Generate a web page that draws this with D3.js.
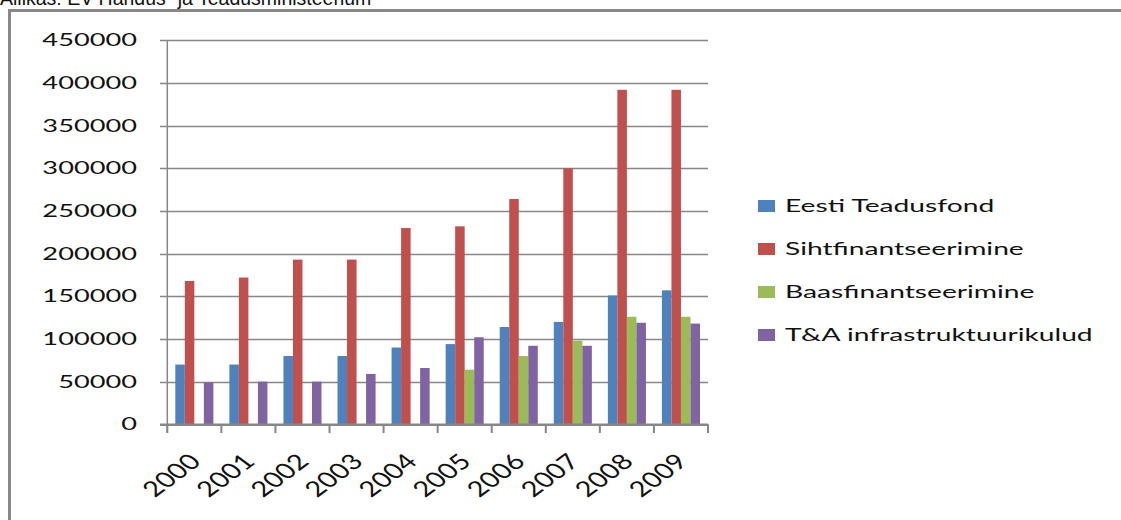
<!DOCTYPE html>
<html>
<head>
<meta charset="utf-8">
<script src="https://cdn.jsdelivr.net/npm/d3@7"></script>
<style>
  body { margin: 0; background: #fff; }
  svg { display: block; }
  text { font-family: Lato, "Open Sans", sans-serif; fill: #111; }
</style>
</head>
<body>
<svg id="chart" width="1121" height="520"></svg>
<script>
const years = ["2000","2001","2002","2003","2004","2005","2006","2007","2008","2009"];
const seriesNames = ["Eesti Teadusfond","Sihtfinantseerimine","Baasfinantseerimine","T&A infrastruktuurikulud"];
const eestiTeadusfond     = [70000, 70000, 80000, 80000, 90000, 94000, 114000, 120000, 151000, 157000];
const sihtfinantseerimine = [168000, 172000, 193000, 193000, 230000, 232000, 264000, 300000, 392000, 392000];
const baasfinantseerimine = [0, 0, 0, 0, 0, 64000, 80000, 98000, 126000, 126000];
const infrastruktuurikulud= [49000, 50000, 50000, 59000, 66000, 102000, 92000, 92000, 119000, 118000];
const yTicks = [0, 50000, 100000, 150000, 200000, 250000, 300000, 350000, 400000, 450000];
const colors = ["#4F81BD", "#C0504D", "#9BBB59", "#8064A2"];
const titleText = "Allikas: EV Haridus- ja Teadusministeerium";

const seriesValues = [eestiTeadusfond, sihtfinantseerimine, baasfinantseerimine, infrastruktuurikulud];
const svg = d3.select("#chart");
const SX = 1.6;

// frame
svg.append("path")
  .attr("d", "M9.5,520 L9.5,10.5 L1121,10.5")
  .attr("fill", "none").attr("stroke", "#888").attr("stroke-width", 3);

// title (cut off at top, as in the reference)
svg.append("text").attr("x", 0).attr("y", 5)
  .style("font-family", "'Liberation Sans', Arial, sans-serif")
  .style("font-size", "19.5px").text(titleText);

const x = d3.scaleBand().domain(years).range([167.3, 708]).paddingInner(0).paddingOuter(0);
const xs = d3.scaleBand().domain(seriesNames).range([8, x.bandwidth() - 8]).padding(0);
const y = d3.scaleLinear().domain([0, 450000]).range([424.3, 40.3]);

// gridlines
svg.append("g").selectAll("line").data(yTicks.filter(d => d > 0)).join("line")
  .attr("x1", 160).attr("x2", 708)
  .attr("y1", d => Math.round(y(d)) + 0.5).attr("y2", d => Math.round(y(d)) + 0.5)
  .attr("stroke", "#878787").attr("stroke-width", 1.4);

// bars
const g = svg.append("g");
seriesNames.forEach((s, i) => {
  g.append("g").selectAll("rect").data(years.map((yr, j) => ({yr, v: seriesValues[i][j]})).filter(d => d.v > 0))
    .join("rect")
    .attr("x", d => x(d.yr) + xs(s))
    .attr("width", xs.bandwidth())
    .attr("y", d => y(d.v))
    .attr("height", d => y(0) - y(d.v))
    .attr("fill", colors[i]);
});

// y axis line
svg.append("line").attr("x1", 167.3).attr("x2", 167.3).attr("y1", y(450000)).attr("y2", 433)
  .attr("stroke", "#878787").attr("stroke-width", 1.5);
// y labels
svg.append("g").selectAll("text").data(yTicks).join("text")
  .attr("transform", d => `translate(137,${y(d)}) scale(${SX},1)`)
  .attr("text-anchor", "end").attr("dy", "0.36em")
  .style("font-size", "17px").text(d => d3.format("d")(d));

// x axis baseline and ticks
svg.append("line").attr("x1", 160).attr("x2", 708).attr("y1", y(0) + 0.5).attr("y2", y(0) + 0.5)
  .attr("stroke", "#878787").attr("stroke-width", 2.5);
const tickPos = years.map(d => x(d)).concat([x.range()[1]]);
svg.append("g").selectAll("line").data(tickPos).join("line")
  .attr("x1", d => d).attr("x2", d => d).attr("y1", y(0)).attr("y2", 433)
  .attr("stroke", "#878787").attr("stroke-width", 2);

// x labels
svg.append("g").selectAll("text").data(years).join("text")
  .attr("transform", d => `translate(${x(d) + x.bandwidth() / 2 + 8},463) scale(1.35,1) rotate(-45)`)
  .attr("text-anchor", "end")
  .style("font-size", "21.5px").text(d => d);

// legend
const lg = svg.append("g");
seriesNames.forEach((s, i) => {
  const cy = 206 + i * 43;
  lg.append("rect").attr("x", 758).attr("y", cy - 6).attr("width", 17).attr("height", 12).attr("fill", colors[i]);
  lg.append("text").attr("transform", `translate(785,${cy}) scale(1.66,1)`)
    .attr("dy", "0.36em").style("font-size", "17px").text(s);
});
</script>
</body>
</html>
